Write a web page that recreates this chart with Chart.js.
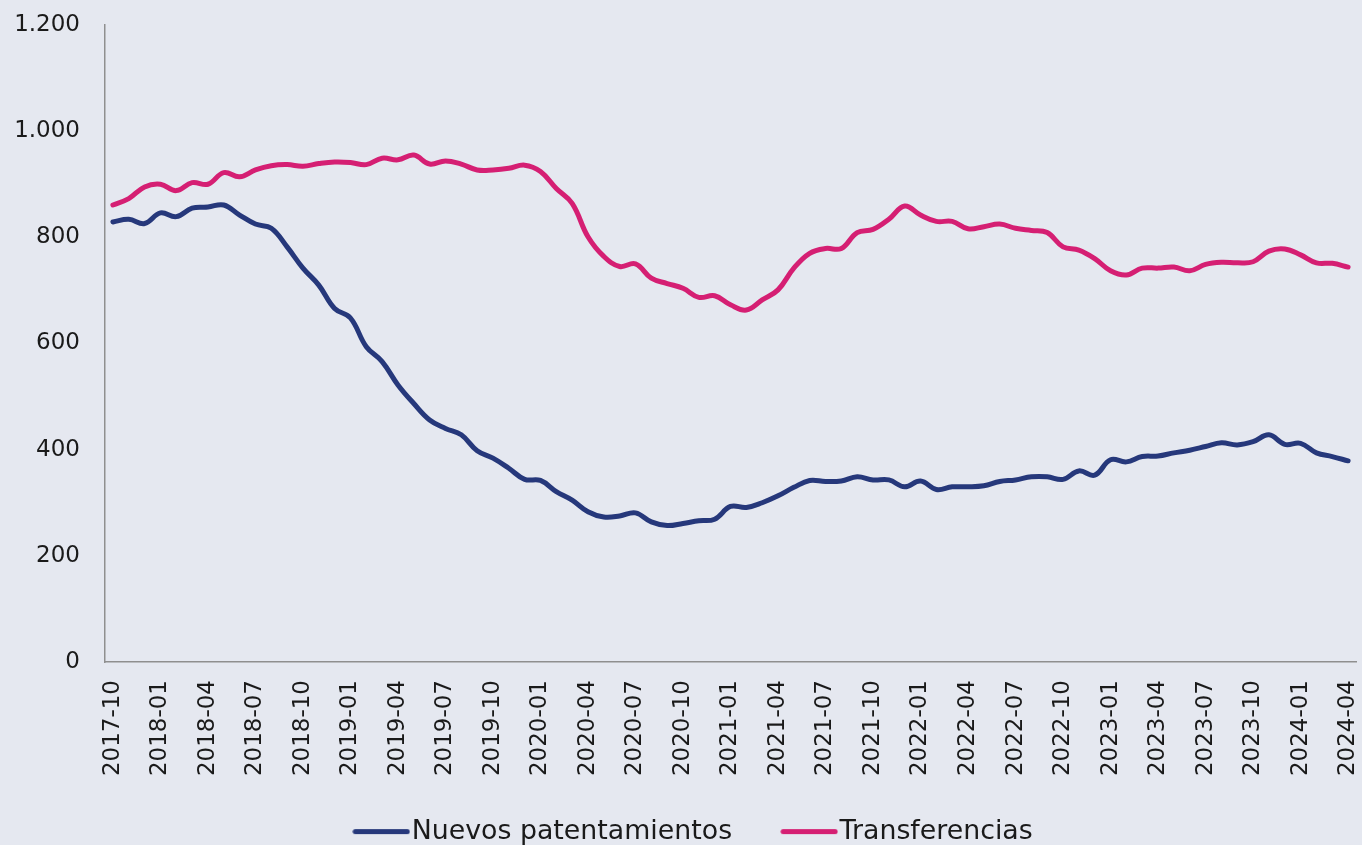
<!DOCTYPE html>
<html>
<head>
<meta charset="utf-8">
<script src="https://cdn.jsdelivr.net/npm/chart.js@4.4.1/dist/chart.umd.min.js"></script>
<style>
  html, body { margin: 0; padding: 0; background: #E5E8F0; overflow: hidden; }
  #wrap { width: 1362px; height: 845px; overflow: hidden; }
  canvas { display: block; }
</style>
</head>
<body>
<div id="wrap"><canvas id="c" width="1362" height="855"></canvas></div>
<script>
const categories = [
  '2017-10','2017-11','2017-12',
  '2018-01','2018-02','2018-03','2018-04','2018-05','2018-06','2018-07','2018-08','2018-09','2018-10','2018-11','2018-12',
  '2019-01','2019-02','2019-03','2019-04','2019-05','2019-06','2019-07','2019-08','2019-09','2019-10','2019-11','2019-12',
  '2020-01','2020-02','2020-03','2020-04','2020-05','2020-06','2020-07','2020-08','2020-09','2020-10','2020-11','2020-12',
  '2021-01','2021-02','2021-03','2021-04','2021-05','2021-06','2021-07','2021-08','2021-09','2021-10','2021-11','2021-12',
  '2022-01','2022-02','2022-03','2022-04','2022-05','2022-06','2022-07','2022-08','2022-09','2022-10','2022-11','2022-12',
  '2023-01','2023-02','2023-03','2023-04','2023-05','2023-06','2023-07','2023-08','2023-09','2023-10','2023-11','2023-12',
  '2024-01','2024-02','2024-03','2024-04'
];

const nuevosPatentamientos = [
  829, 834, 826, 846, 839, 855, 857, 861, 842, 825,
  817, 782, 742, 710, 666, 648, 594, 566, 522, 487,
  456, 440, 428, 398, 384, 365, 344, 342, 321, 305,
  283, 273, 275, 281, 264, 257, 261, 266, 269, 293,
  291, 300, 313, 329, 342, 340, 341, 349, 343, 343,
  330, 341, 325, 330, 330, 332, 340, 343, 349, 349,
  344, 360, 352, 381, 377, 387, 388, 394, 399, 406,
  413, 409, 415, 428, 410, 412, 394, 387, 379
];

const transferencias = [
  861, 873, 895, 900, 888, 903, 900, 922, 914, 927,
  935, 937, 934, 939, 942, 941, 937, 949, 946, 955,
  938, 944, 938, 927, 927, 930, 936, 924, 892, 864,
  801, 764, 745, 750, 723, 713, 704, 687, 690, 673,
  663, 682, 701, 742, 770, 779, 779, 809, 815, 834,
  859, 842, 830, 830, 816, 820, 825, 817, 813, 809,
  782, 776, 760, 737, 729, 742, 742, 744, 737, 749,
  753, 752, 754, 774, 778, 767, 752, 751, 744
];

const seriesNames = ['Nuevos patentamientos', 'Transferencias'];
const seriesColors = ['#26387B', '#D51F73'];

const yTicks = [0, 200, 400, 600, 800, 1000, 1200];

function legendLine(color) {
  const cv = document.createElement('canvas');
  cv.width = 58; cv.height = 7;
  const g = cv.getContext('2d');
  g.strokeStyle = color;
  g.lineWidth = 5;
  g.lineCap = 'round';
  g.beginPath();
  g.moveTo(3, 3.5);
  g.lineTo(55, 3.5);
  g.stroke();
  return cv;
}

function fmt(v) {
  return String(v).replace(/\B(?=(\d{3})+(?!\d))/g, '.');
}

const FONT = "'DejaVu Sans', sans-serif";

const adjustBoxes = {
  id: 'adjustBoxes',
  afterLayout(chart) {
    if (chart.legend) {
      chart.legend.left += 20.5;
      chart.legend.right += 20.5;
    }
    if (chart.scales.x) {
      chart.scales.x.bottom = chart.height;
    }
  }
};

new Chart(document.getElementById('c'), {
  type: 'line',
  data: {
    labels: categories,
    datasets: [
      {
        label: seriesNames[0],
        data: nuevosPatentamientos,
        borderColor: seriesColors[0],
        backgroundColor: seriesColors[0],
        borderWidth: 5,
        pointRadius: 0,
        pointHoverRadius: 0,
        pointStyle: legendLine(seriesColors[0]),
        tension: 0.4,
        borderCapStyle: 'round',
        borderJoinStyle: 'round',
        fill: false
      },
      {
        label: seriesNames[1],
        data: transferencias,
        borderColor: seriesColors[1],
        backgroundColor: seriesColors[1],
        borderWidth: 5,
        pointRadius: 0,
        pointHoverRadius: 0,
        pointStyle: legendLine(seriesColors[1]),
        tension: 0.4,
        borderCapStyle: 'round',
        borderJoinStyle: 'round',
        fill: false
      }
    ]
  },
  plugins: [adjustBoxes],
  options: {
    responsive: false,
    animation: false,
    devicePixelRatio: 1,
    layout: { padding: { left: 0, right: 6, top: 25, bottom: 0 } },
    plugins: {
      tooltip: { enabled: false },
      legend: {
        position: 'bottom',
        align: 'center',
        labels: {
          usePointStyle: true,
          pointStyleWidth: 34,
          padding: 60,
          color: '#1a1a1a',
          font: { family: FONT, size: 26.8 }
        }
      }
    },
    scales: {
      x: {
        type: 'category',
        offset: true,
        grid: { display: false, drawTicks: false },
        border: { display: true, color: '#8f8f8f', width: 1.5 },
        ticks: {
          autoSkip: false,
          minRotation: 90,
          maxRotation: 90,
          padding: 18,
          color: '#1a1a1a',
          font: { family: FONT, size: 23 },
          callback: function (value, index) {
            return index % 3 === 0 ? this.getLabelForValue(value) : '';
          }
        },
        afterFit: function (scale) {
          scale.height = 96.2;
          scale.paddingLeft = 0;
          scale.paddingRight = 0;
        }
      },
      y: {
        min: yTicks[0],
        max: yTicks[yTicks.length - 1],
        grid: { display: false, drawTicks: false },
        border: { display: true, color: '#8f8f8f', width: 1.5 },
        ticks: {
          stepSize: yTicks[1] - yTicks[0],
          padding: 25,
          color: '#1a1a1a',
          font: { family: FONT, size: 23 },
          callback: function (v) { return fmt(v); }
        },
        afterFit: function (scale) {
          scale.width = 105;
          scale.paddingTop = 0;
          scale.paddingBottom = 0;
        }
      }
    }
  }
});
</script>
</body>
</html>
